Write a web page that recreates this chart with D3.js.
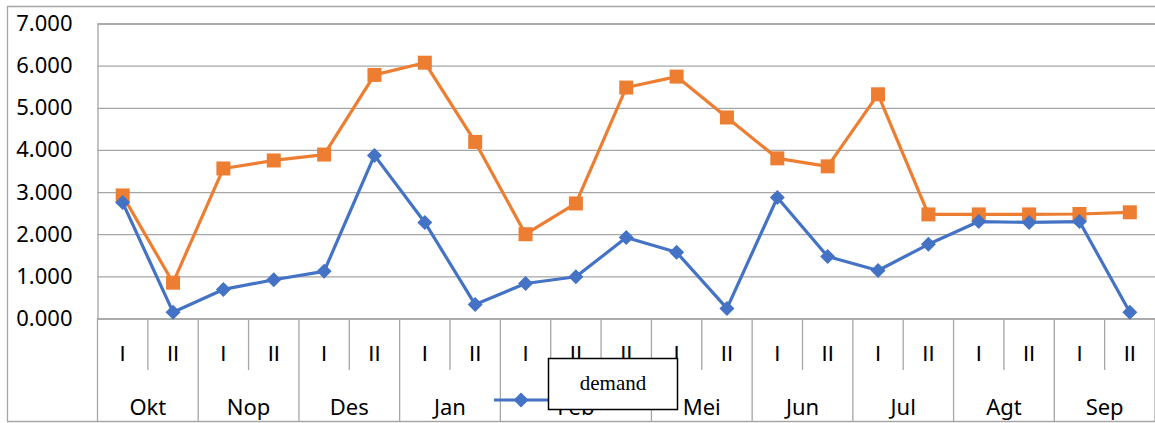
<!DOCTYPE html>
<html>
<head>
<meta charset="utf-8">
<script src="https://cdn.jsdelivr.net/npm/d3@7"></script>
<style>
  html, body { margin: 0; padding: 0; background: #fff; }
  svg { display: block; }
  text { font-family: "Noto Sans", "Liberation Sans", sans-serif; fill: #000; }
</style>
</head>
<body>
<script>
// Half-month periods grouped by month
const months = ["Okt", "Nop", "Des", "Jan", "Feb", "Mei", "Jun", "Jul", "Agt", "Sep"];
const monthSizes = [2, 2, 2, 2, 3, 2, 2, 2, 2, 2];
const periods = ["I", "II", "I", "II", "I", "II", "I", "II", "I", "II", "II",
                 "I", "II", "I", "II", "I", "II", "I", "II", "I", "II"];
const demand = [2.75, 0.15, 0.69, 0.92, 1.12, 3.87, 2.28, 0.33, 0.83, 0.99, 1.92,
                1.57, 0.24, 2.87, 1.47, 1.14, 1.76, 2.30, 2.28, 2.30, 0.15];
const second = [2.92, 0.85, 3.56, 3.75, 3.89, 5.78, 6.07, 4.19, 2.00, 2.73, 5.48,
                5.74, 4.77, 3.80, 3.61, 5.32, 2.47, 2.47, 2.47, 2.48, 2.52];
const yTicks = [0, 1, 2, 3, 4, 5, 6, 7];

const W = 1155, H = 423;
const plot = { left: 97.5, right: 1155, top: 23.5, bottom: 318.5 };
const axisBottom = 421;
const shortBottom = 370;
const gridColor = "#a6a6a6";
const blue = "#4472C4", orange = "#ED7D31";

const svg = d3.select("body").append("svg").attr("width", W).attr("height", H);

const idx = d3.range(periods.length);
const x = d3.scaleBand().domain(idx).range([plot.left, plot.right]);
const y = d3.scaleLinear().domain([0, 7]).range([plot.bottom, plot.top]);
const cx = i => x(i) + x.bandwidth() / 2;

// chart border (top, left, bottom)
svg.append("path")
  .attr("d", `M${W},6.5 H7.5 V${axisBottom + 0.5} H${W}`)
  .attr("fill", "none").attr("stroke", gridColor).attr("stroke-width", 1.3);

// horizontal gridlines + value labels
const yAxis = d3.axisLeft(y).tickValues(yTicks).tickFormat(d3.format(".3f"))
  .tickSize(-(plot.right - plot.left)).tickPadding(25);
const ya = svg.append("g").attr("transform", `translate(${plot.left},0)`).call(yAxis);
ya.select(".domain").attr("stroke", gridColor).attr("stroke-width", 1.3);
ya.selectAll(".tick line").attr("stroke", gridColor).attr("stroke-width", 1.3);
ya.selectAll(".tick text").attr("font-size", 22).attr("font-family", "Noto Sans").attr("fill", "#000");

// category axis: period dividers and month dividers
const starts = [];
let acc = 0;
monthSizes.forEach(s => { starts.push(acc); acc += s; });
const boundaries = new Set(starts.concat([periods.length]));
const cat = svg.append("g");
for (let i = 0; i <= periods.length; i++) {
  const xx = i < periods.length ? x(i) : plot.right;
  cat.append("line")
    .attr("x1", xx).attr("x2", xx)
    .attr("y1", plot.bottom).attr("y2", boundaries.has(i) ? axisBottom : shortBottom)
    .attr("stroke", gridColor).attr("stroke-width", 1.3);
}
cat.selectAll("text.period").data(periods).join("text")
  .attr("class", "period")
  .attr("x", (d, i) => cx(i)).attr("y", 353)
  .attr("text-anchor", "middle").attr("dominant-baseline", "central")
  .style("font-family", "'Liberation Sans', Arial, sans-serif")
  .attr("font-size", 22).text(d => d);
cat.selectAll("text.month").data(months).join("text")
  .attr("class", "month")
  .attr("x", (d, j) => (x(starts[j]) + (starts[j] + monthSizes[j] < periods.length
      ? x(starts[j] + monthSizes[j]) : plot.right)) / 2)
  .attr("y", 406)
  .attr("text-anchor", "middle").attr("dominant-baseline", "central")
  .attr("font-size", 22).text(d => d);

// series lines and markers
const line = d3.line().x((d, i) => cx(i)).y(d => y(d));
function drawSeries(data, color, marker) {
  svg.append("path").datum(data)
    .attr("d", line).attr("fill", "none")
    .attr("stroke", color).attr("stroke-width", 3.2).attr("stroke-linejoin", "round");
  svg.append("g").selectAll("path").data(data).join("path")
    .attr("transform", (d, i) => `translate(${cx(i)},${y(d)})`)
    .attr("d", marker)
    .attr("fill", color);
}
drawSeries(second, orange, "M-7,-7H7V7H-7Z");
drawSeries(demand, blue, "M0,-7.5L7.5,0L0,7.5L-7.5,0Z");

// legend entry with its label box
const lg = svg.append("g");
lg.append("line").attr("x1", 494).attr("x2", 548).attr("y1", 400).attr("y2", 400)
  .attr("stroke", blue).attr("stroke-width", 3.2);
lg.append("path").attr("transform", "translate(521,400)")
  .attr("d", "M0,-7.5L7.5,0L0,7.5L-7.5,0Z").attr("fill", blue);
lg.append("rect").attr("x", 548.5).attr("y", 358.5).attr("width", 129).attr("height", 51)
  .attr("fill", "#fff").attr("stroke", "#000").attr("stroke-width", 1.5);
lg.append("text").attr("x", 613).attr("y", 390)
  .attr("text-anchor", "middle")
  .style("font-family", "'Liberation Serif', 'Times New Roman', serif")
  .attr("font-size", 21).text("demand");
</script>
</body>
</html>
